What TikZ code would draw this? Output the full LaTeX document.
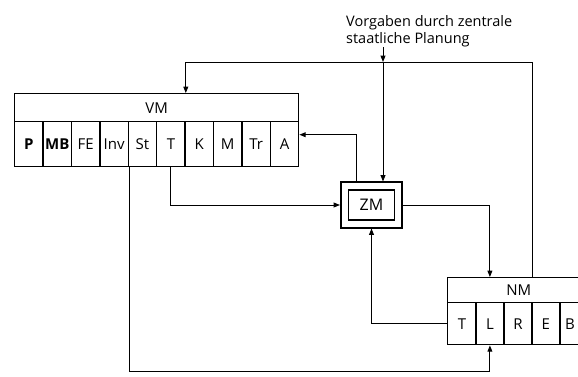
\documentclass[tikz,border=0pt]{standalone}
\usepackage{fontspec}
\setmainfont{Open Sans}
\usetikzlibrary{arrows.meta,positioning,fit}
\tikzset{
  >={Triangle[length=2.2mm,width=1.7mm]},
  head/.style={draw,line width=1.4pt,inner sep=0pt,font=\fontsize{15}{17}\selectfont},
  cell/.style={draw,line width=1.4pt,minimum width=28.4pt,inner sep=0pt,
    font=\fontsize{15}{17}\selectfont},
  flow/.style={->,line width=0.9pt},
  link/.style={line width=0.9pt},
}

\begin{document}
\begin{tikzpicture}[x=1pt,y=-1pt]
  \clip (0,0) rectangle (578,376);
  \fill[white] (0,0) rectangle (578,376);
  % Vorgaben
  \node[anchor=north west,align=left,inner sep=0pt,font=\fontsize{14.5}{17.5}\selectfont]
    (vorg) at (346,15) {Vorgaben durch zentrale\\staatliche Planung};
  \coordinate (plan) at (383,62);
  % VM
  \node[head,minimum width=284pt,minimum height=28pt,anchor=north west] (vmh) at (14,93) {VM};
  \foreach \t [count=\i] in {\textbf{P},\textbf{MB},FE,Inv,St,T,K,M,Tr,A}
    \node[cell,minimum height=45pt,anchor=north west] (vm-\i) at ({14+(\i-1)*28.4},121) {\t};
  % ZM
  \node[draw,line width=1.3pt,minimum width=46pt,minimum height=30pt,inner sep=0pt,
    font=\fontsize{16}{18}\selectfont] (zmin) at (371.5,205) {ZM};
  \node[draw,line width=1.8pt,fit=(zmin),inner sep=7pt] (zm) {};
  % NM
  \node[head,minimum width=142pt,minimum height=25pt,anchor=north west] (nmh) at (447,277) {NM};
  \foreach \t [count=\i] in {T,L,R,E,\hspace*{-8pt}B}
    \node[cell,minimum height=42pt,anchor=north west] (nm-\i) at ({447+(\i-1)*28},302) {\t};
  % connectors
  \draw[flow] (plan |- vorg.south) -- (plan);
  \draw[flow] (plan) -| (vmh.north -| vm-6.east);
  \draw[link] (plan) -| (nmh.north -| nm-3.east);
  \draw[flow] (plan) -- (plan |- zm.north);
  \draw[flow] (vm-6.south) |- (zm.west);
  \draw[flow] ([xshift=-15.5pt]zm.north) |- ([yshift=9.5pt]vm-10.east);
  \draw[flow] (zm.east) -| (nmh.north -| nm-2);
  \draw[flow] (nm-1.west) -| (zm.south);
  \coordinate (bot) at (0,371);
  \draw[flow] (vm-4.south east) |- (bot -| nm-2.south) -- (nm-2.south);
\end{tikzpicture}
\end{document}
